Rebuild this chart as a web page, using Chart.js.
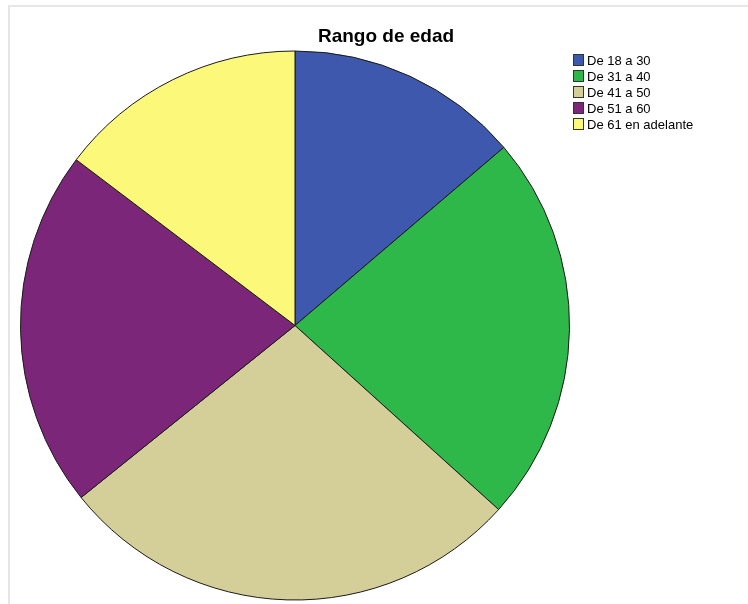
<!DOCTYPE html>
<html>
<head>
<meta charset="utf-8">
<script src="https://cdn.jsdelivr.net/npm/chart.js@4.4.1/dist/chart.umd.min.js"></script>
<style>
    html, body { margin: 0; padding: 0; background: #fff; }
    #wrap { width: 748px; height: 604px; position: relative; }
</style>
</head>
<body>
<div id="wrap"><canvas id="pieChart" width="748" height="604"></canvas></div>
<script>
// Rango de edad - frecuencias
const categories = ["De 18 a 30", "De 31 a 40", "De 41 a 50", "De 51 a 60", "De 61 en adelante"];
const counts = [15, 25, 30, 23, 16];
const sliceColors = ["#3d58ac", "#2eb84a", "#d4cf99", "#7b2678", "#fbf87a"];

// frame + title + legend drawn on top of the pie
const decorPlugin = {
    id: "decor",
    beforeDraw(chart) {
        const ctx = chart.ctx;
        ctx.save();
        ctx.strokeStyle = "#e6e6e6";
        ctx.lineWidth = 2;
        ctx.beginPath();
        ctx.moveTo(748, 6);
        ctx.lineTo(9, 6);
        ctx.lineTo(9, 604);
        ctx.stroke();
        ctx.restore();
    },
    afterDraw(chart) {
        const ctx = chart.ctx;
        ctx.save();
        // title
        ctx.fillStyle = "#000";
        ctx.font = "bold 19px 'Liberation Sans', Arial, sans-serif";
        ctx.textAlign = "center";
        ctx.textBaseline = "middle";
        ctx.fillText("Rango de edad", 386, 37);

        // legend
        ctx.font = "13px 'Liberation Sans', Arial, sans-serif";
        ctx.textAlign = "left";
        chart.data.labels.forEach((label, i) => {
            const y = 60 + i * 16;
            ctx.fillStyle = chart.data.datasets[0].backgroundColor[i];
            ctx.fillRect(573.5, y - 5.5, 10, 11);
            ctx.strokeStyle = "#333";
            ctx.lineWidth = 1;
            ctx.strokeRect(573.5, y - 5.5, 10, 11);
            ctx.fillStyle = "#000";
            ctx.fillText(label, 587, y + 1);
        });
        ctx.restore();
    }
};

new Chart(document.getElementById("pieChart").getContext("2d"), {
    type: "pie",
    data: {
        labels: categories,
        datasets: [{
            data: counts,
            backgroundColor: sliceColors,
            borderColor: "#1a1a1a",
            borderWidth: 1
        }]
    },
    options: {
        responsive: false,
        animation: false,
        layout: {
            padding: { left: 20, top: 50, right: 178, bottom: 3 }
        },
        plugins: {
            legend: { display: false },
            title: { display: false },
            tooltip: { enabled: false }
        }
    },
    plugins: [decorPlugin]
});
</script>
</body>
</html>
